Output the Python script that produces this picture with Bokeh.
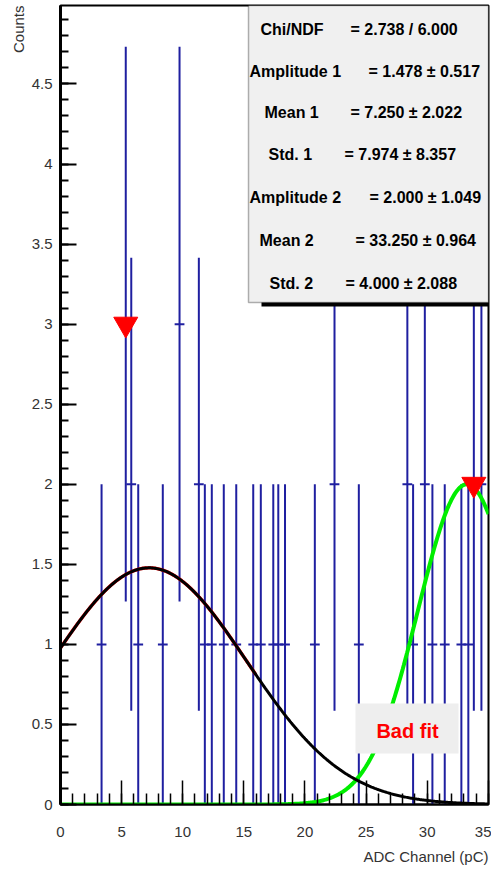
import numpy as np
from bokeh.plotting import figure
from bokeh.models import (Range1d, SingleIntervalTicker, Label, BoxAnnotation,
                          ColumnDataSource, CustomJSTickFormatter, Title)
from bokeh.embed import file_html
from bokeh.resources import INLINE

# Non-empty histogram bins: bin centre (pC) and entries
adc_charge = [3.36, 5.34, 5.79, 6.36, 8.37, 9.74, 11.32, 11.81, 12.38, 13.36,
              14.38, 15.77, 16.39, 17.41, 17.82, 18.37, 20.81, 22.42, 24.41,
              28.38, 28.85, 29.81, 30.43, 31.44, 32.80, 33.37, 33.82, 34.44]
counts = [1, 3, 2, 1, 1, 3, 2, 1, 1, 1,
          1, 1, 1, 1, 1, 1, 1, 2, 1,
          2, 1, 2, 1, 1, 1, 1, 2, 2]

# Peak-search results
peak_x = [5.34, 33.82]
peak_y = [3, 2]

# Double-gaussian fit results
fit_names = ["Chi/NDF", "Amplitude 1", "Mean 1", "Std. 1",
             "Amplitude 2", "Mean 2", "Std. 2"]
fit_values = ["= 2.738 /  6.000", "= 1.478 ± 0.517", "= 7.250 ± 2.022",
              "= 7.974 ± 8.357", "= 2.000 ± 1.049", "= 33.250 ± 0.964",
              "= 4.000 ± 2.088"]
amp1, mean1, sd1 = 1.478, 7.250, 7.974
amp2, mean2, sd2 = 2.000, 33.250, 4.000

X_MIN, X_MAX = 0.0, 35.02
Y_MIN, Y_MAX = 0.0, 4.99

W, H = 491, 872
LEFT, RIGHT, TOP, BOTTOM = 60, 3, 5, 68
FRAME_W = W - LEFT - RIGHT
FRAME_H = H - TOP - BOTTOM


def fx(px):
    """canvas x pixel -> data x (for placing annotations)"""
    return X_MIN + (px - LEFT) * (X_MAX - X_MIN) / FRAME_W


def fy(py):
    """canvas y pixel -> data y (for placing annotations)"""
    return Y_MIN + (H - BOTTOM - py) * (Y_MAX - Y_MIN) / FRAME_H


p = figure(width=W, height=H, output_backend="svg", toolbar_location=None,
           x_range=Range1d(X_MIN, X_MAX), y_range=Range1d(Y_MIN, Y_MAX),
           min_border_left=LEFT, min_border_right=RIGHT,
           min_border_top=TOP, min_border_bottom=BOTTOM)
p.background_fill_color = "white"
p.border_fill_color = "white"
p.xgrid.visible = False
p.ygrid.visible = False
p.outline_line_color = "black"
p.outline_line_width = 2

fmt = CustomJSTickFormatter(code="return String(Math.round(tick * 10) / 10);")

# ROOT-style axes: ticks pointing into the frame
p.xaxis.ticker = SingleIntervalTicker(interval=5, num_minor_ticks=5)
p.xaxis.formatter = fmt
p.xaxis.major_tick_in = 24
p.xaxis.major_tick_out = 0
p.xaxis.minor_tick_in = 11
p.xaxis.minor_tick_out = 0
p.xaxis.major_tick_line_width = 1.5
p.xaxis.minor_tick_line_width = 1.5
p.xaxis.axis_line_width = 2
p.xaxis.major_label_standoff = 22
p.xaxis.major_label_text_font = "Liberation Sans"
p.xaxis.major_label_text_font_size = "15px"
p.xaxis.major_label_text_color = "#333333"

p.yaxis.ticker = SingleIntervalTicker(interval=0.5, num_minor_ticks=5)
p.yaxis.formatter = fmt
p.yaxis.major_tick_in = 16
p.yaxis.major_tick_out = 0
p.yaxis.minor_tick_in = 8
p.yaxis.minor_tick_out = 0
p.yaxis.major_tick_line_width = 2
p.yaxis.minor_tick_line_width = 2
p.yaxis.axis_line_width = 3
p.yaxis.major_label_standoff = 8
p.yaxis.major_label_text_font = "Liberation Sans"
p.yaxis.major_label_text_font_size = "15px"
p.yaxis.major_label_text_color = "#333333"

# Axis titles, ROOT style (aligned to the far end of each axis)
p.add_layout(Title(text="Counts", align="right", text_font="Liberation Sans",
                   text_font_size="15px", text_font_style="normal",
                   text_color="#333333", standoff=4), "left")
p.add_layout(Title(text="ADC Channel (pC)", align="right",
                   text_font="Liberation Sans", text_font_size="15px",
                   text_font_style="normal", text_color="#333333",
                   standoff=12), "below")

# Histogram entries with Poisson errors
c = np.array(counts, dtype=float)
err = np.sqrt(c)
x = np.array(adc_charge)
half_bin = 0.4
src = ColumnDataSource(dict(x=x, lo=c - err, hi=c + err, y=c,
                            xl=x - half_bin, xr=x + half_bin))
bar_color = "#1f1fa0"
p.segment(x0="x", y0="lo", x1="x", y1="hi", source=src,
          line_color=bar_color, line_width=2)
p.segment(x0="xl", y0="y", x1="xr", y1="y", source=src,
          line_color=bar_color, line_width=2)

# Fitted gaussians
xs = np.linspace(X_MIN, X_MAX, 400)
g1 = amp1 * np.exp(-0.5 * ((xs - mean1) / sd1) ** 2)
g2 = amp2 * np.exp(-0.5 * ((xs - mean2) / sd2) ** 2)
sel = xs <= 16
p.line(xs[sel], g1[sel], line_color="#ff0000", line_width=3.4)
p.line(xs, g2, line_color="#00ee00", line_width=4)
p.line(xs, g1, line_color="black", line_width=3)

# Peak markers
p.scatter(peak_x, peak_y, marker="inverted_triangle", size=24,
          fill_color="#ff0000", line_color="#ff0000")

# "Bad fit" tag
p.add_layout(BoxAnnotation(left=fx(355), right=fx(458), bottom=fy(753), top=fy(703),
                           fill_color="#eeeeee", fill_alpha=1.0, line_color=None))
p.add_layout(Label(x=fx(407), y=fy(730), text="Bad fit", text_align="center",
                   text_baseline="middle", text_color="#ff0000",
                   text_font="Liberation Sans", text_font_style="bold",
                   text_font_size="20px"))

# Fit-result box with shadow
p.add_layout(BoxAnnotation(left=fx(261), right=X_MAX, bottom=fy(306), top=fy(295),
                           fill_color="black", fill_alpha=1.0, line_color=None))
p.add_layout(BoxAnnotation(left=fx(248), right=X_MAX, bottom=fy(302), top=Y_MAX,
                           fill_color="#f0f0f0", fill_alpha=1.0,
                           line_color="black", line_width=1.5))

row_y = [29, 71, 112, 154, 197, 240, 283]
name_left = [260, 249, 264, 268, 249, 259, 269]
value_left = [350, 368, 350, 344, 369, 355, 345]
for name, val, ry, nl, vl in zip(fit_names, fit_values, row_y, name_left, value_left):
    p.add_layout(Label(x=fx(nl), y=fy(ry), text=name, text_align="left",
                       text_baseline="middle", text_color="black",
                       text_font="Liberation Sans", text_font_style="bold",
                       text_font_size="16px"))
    p.add_layout(Label(x=fx(vl), y=fy(ry), text=val, text_align="left",
                       text_baseline="middle", text_color="black",
                       text_font="Liberation Sans", text_font_style="bold",
                       text_font_size="16px"))

open("out.html", "w").write(file_html(p, INLINE))
